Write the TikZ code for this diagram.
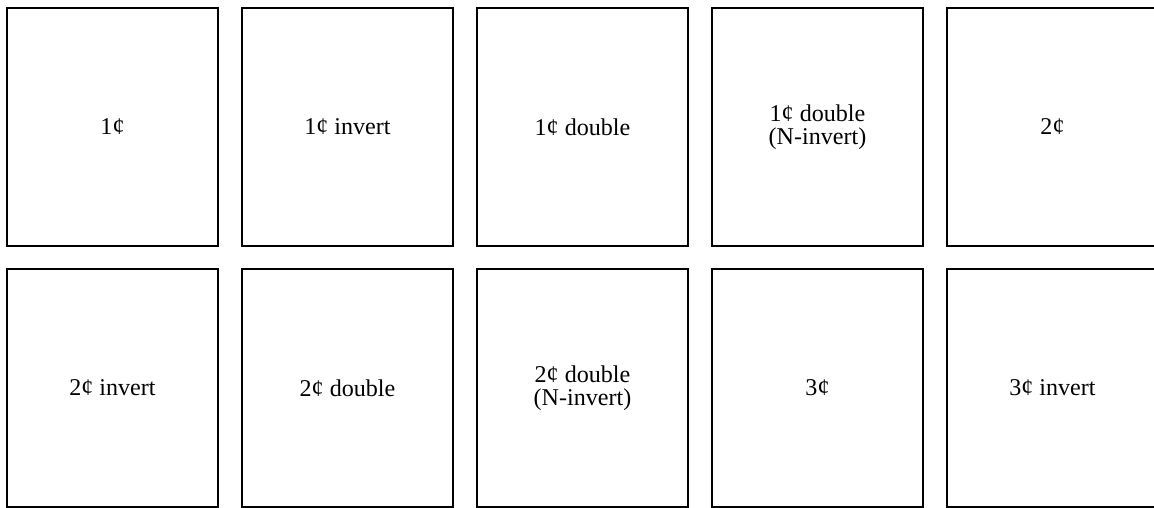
\documentclass[tikz,border=0pt]{standalone}
\usepackage{fontspec}
\setmainfont{Liberation Serif}
\usepackage{tikz}
\usetikzlibrary{positioning}

\begin{document}
\begin{tikzpicture}[
  card/.style={rectangle, draw, line width=1.1pt, minimum width=4.22cm, minimum height=4.76cm, inner sep=0pt, align=center},
  every node/.style={font=\fontsize{13.7}{13}\selectfont}
]
\useasboundingbox (0,0) rectangle (23.08,10.16);
% Top row
\node[card] (one) at (2.25, 7.62) {1¢};
\node[card] (oneinv) at (6.95, 7.62) {1¢ invert};
\node[card] (onedbl) at (11.65, 7.62) {1¢ double};
\node[card] (onedbln) at (16.35, 7.62) {1¢ double\\(N-invert)};
\node[card] (two) at (21.05, 7.62) {2¢};
% Bottom row
\node[card] (twoinv) at (2.25, 2.40) {2¢ invert};
\node[card] (twodbl) at (6.95, 2.40) {2¢ double};
\node[card] (twodbln) at (11.65, 2.40) {2¢ double\\(N-invert)};
\node[card] (three) at (16.35, 2.40) {3¢};
\node[card] (threeinv) at (21.05, 2.40) {3¢ invert};
\end{tikzpicture}
\end{document}
